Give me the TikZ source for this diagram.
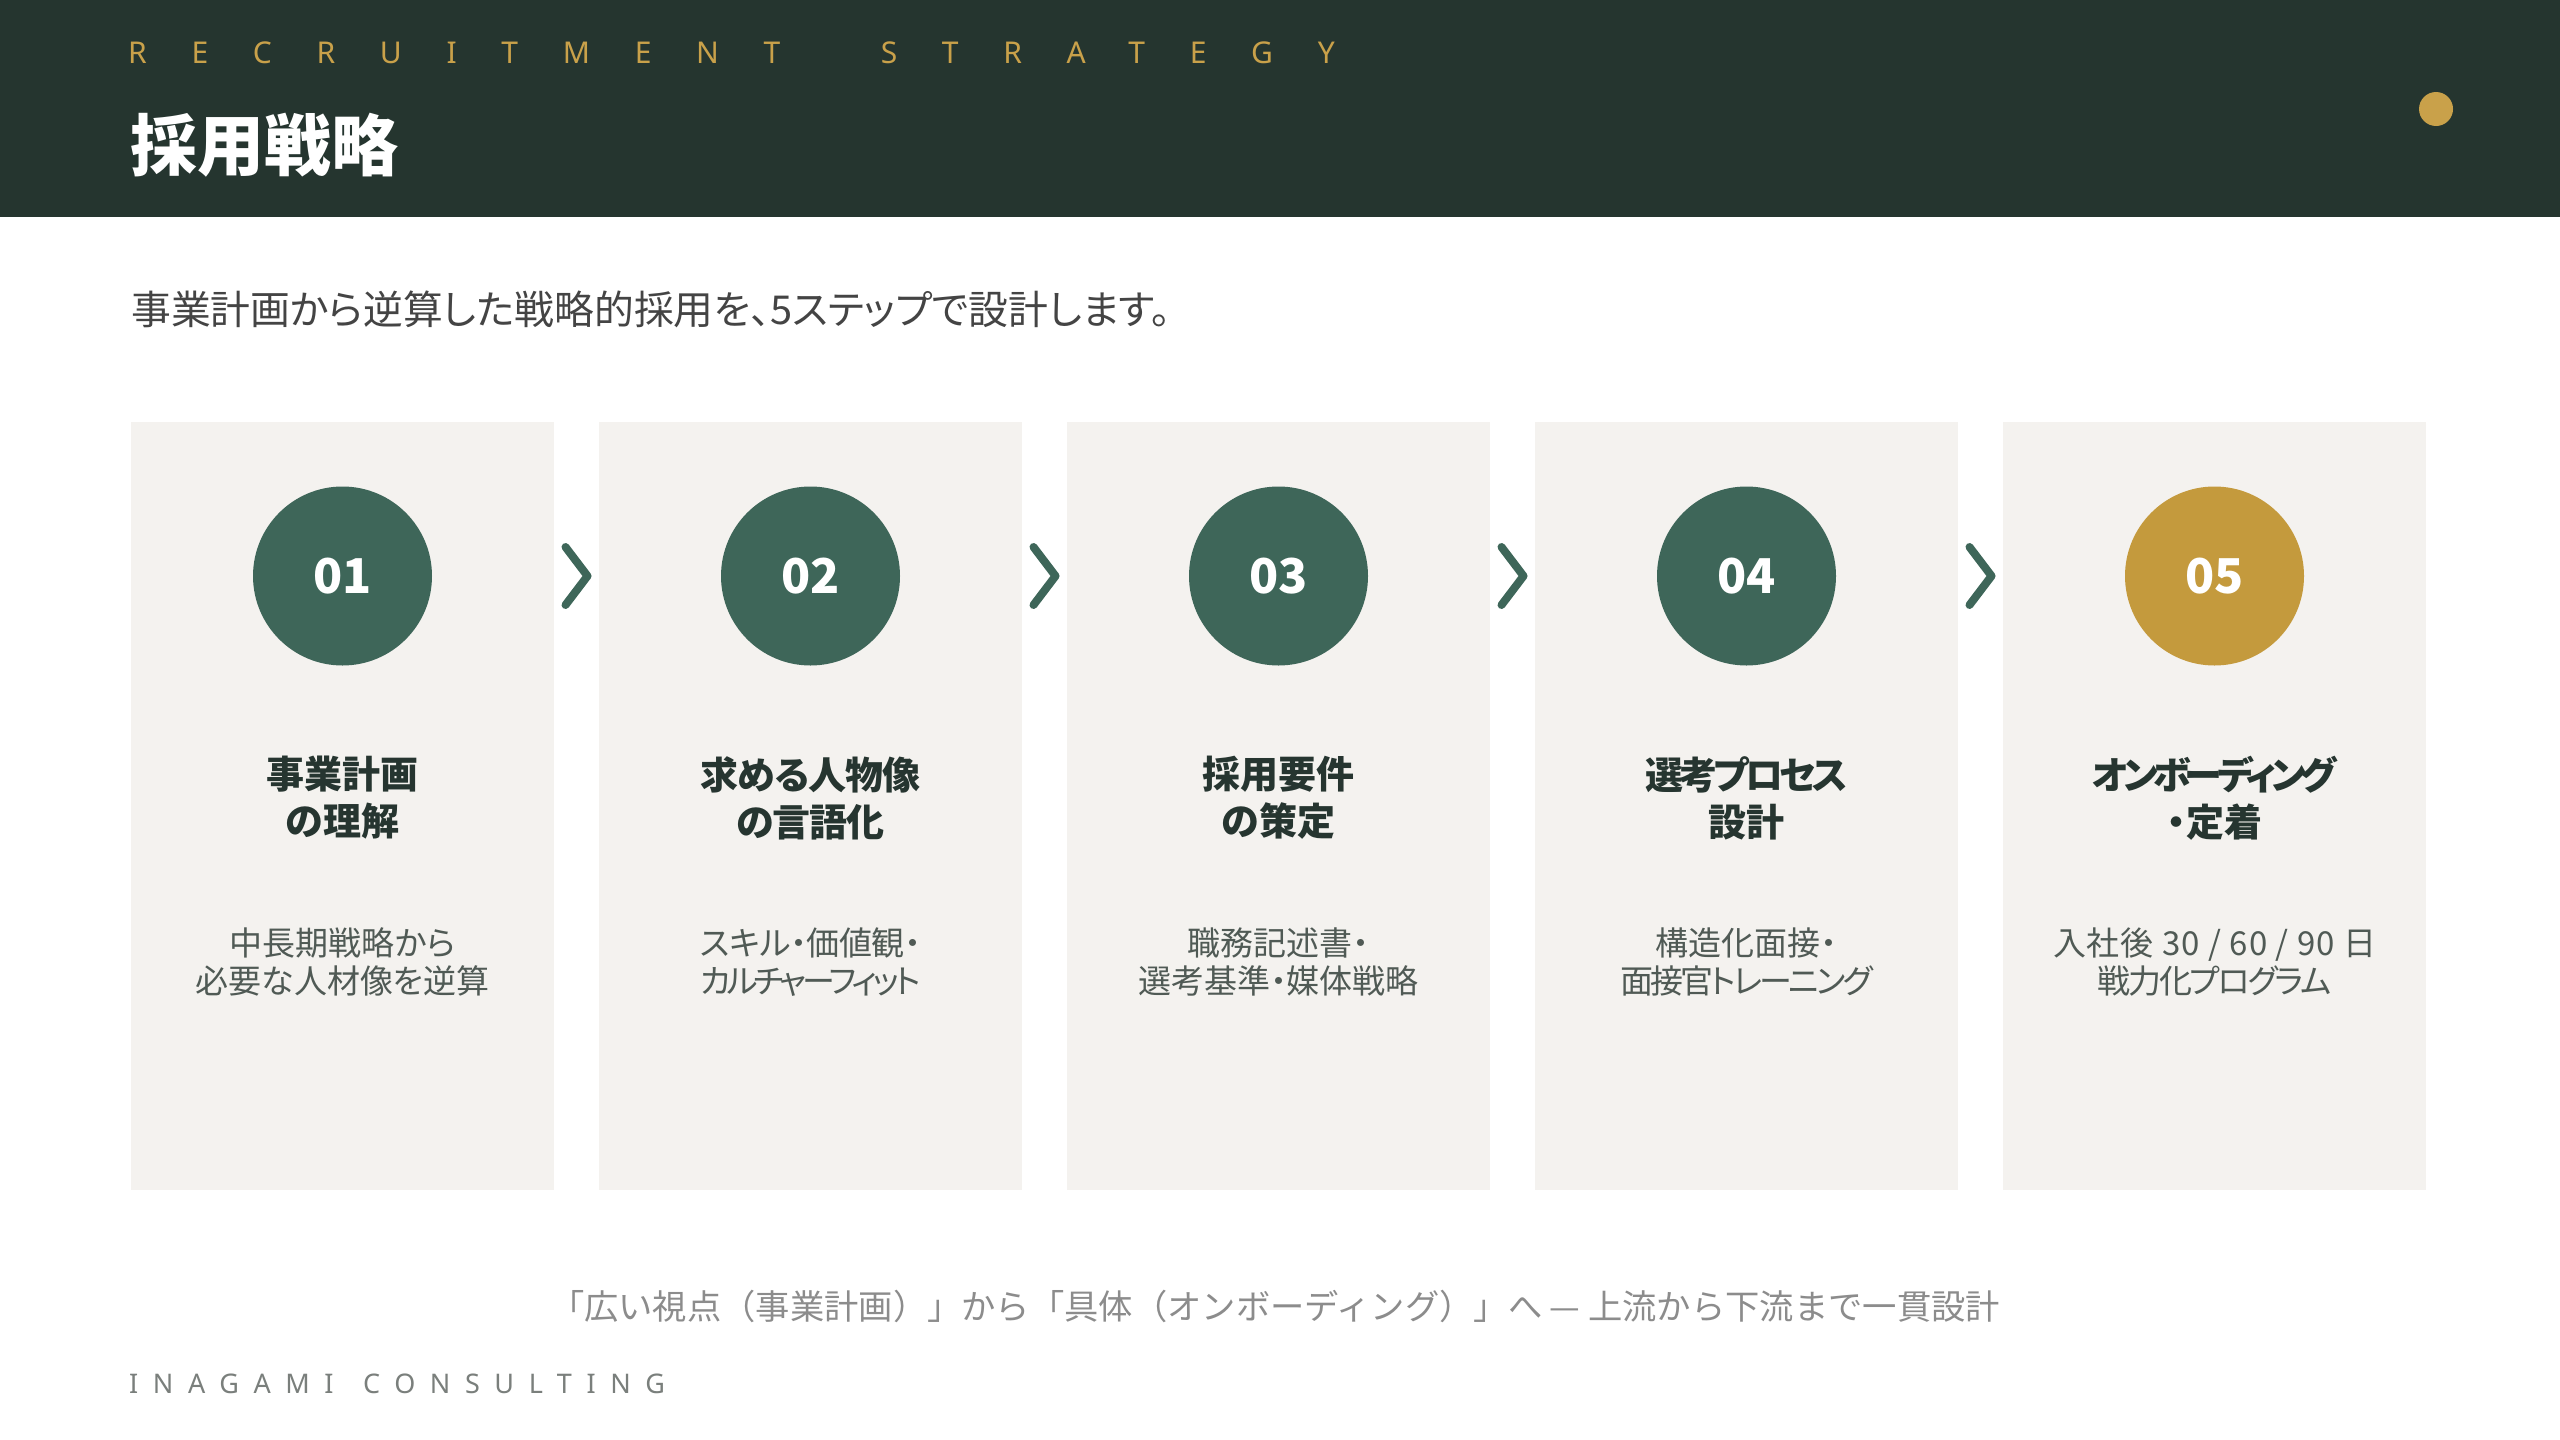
\documentclass[tikz,border=0pt]{standalone}
\usepackage{fontspec}
\setmainfont{Noto Sans CJK JP}
\newfontfamily\jpp{Noto Sans CJK JP}[RawFeature=+palt]
\newfontfamily\latinfont{Noto Sans}
\newcommand\trk[2]{{\addfontfeature{LetterSpace=#1}#2}}
\usetikzlibrary{calc}
\definecolor{hdr}{HTML}{25352F}
\definecolor{gold}{HTML}{C9A14A}
\definecolor{goldc}{HTML}{C49A3D}
\definecolor{grn}{HTML}{3E6659}
\definecolor{cardbg}{HTML}{F4F2EF}
\definecolor{ttl}{HTML}{263530}
\definecolor{desc}{HTML}{505A55}
\definecolor{subt}{HTML}{444444}
\definecolor{capt}{HTML}{8C8C8C}
\definecolor{brand}{HTML}{7A7F7C}
\tikzset{
  cardbox/.style={fill=cardbg, draw=none, minimum width=423pt, minimum height=768pt, inner sep=0pt},
  numdisc/.style={circle, minimum size=179pt, inner sep=0pt, text=white,
    font={\fontsize{48}{58}\selectfont\bfseries}},
  stitle/.style={align=center, text=ttl, inner sep=0pt, font={\jpp\fontsize{38}{47}\selectfont\bfseries}},
  sdesc/.style={align=center, text=desc, inner sep=0pt, font={\jpp\fontsize{33}{38}\selectfont}},
  chev/.style={draw=grn, line width=8pt, line cap=round, line join=round}
}
\begin{document}
\begin{tikzpicture}[x=1pt,y=-1pt]
\useasboundingbox (0,0) rectangle (2560,1440);
\fill[white] (0,0) rectangle (2560,1440);
\fill[hdr] (0,0) rectangle (2560,217);
\node[anchor=base west, inner sep=0pt, text=gold,
  font={\latinfont\fontsize{30}{36}\selectfont\addfontfeature{LetterSpace=149}}] (lbl) at (128,63) {RECRUITMENT\hspace{48pt} STRATEGY};
\node[anchor=base west, inner sep=0pt, text=white,
  font={\fontsize{67}{76}\selectfont\bfseries}] (title) at (130,170) {採用戦略};
\node[circle, fill=gold, minimum size=34pt, inner sep=0pt] (dot) at (2436,109) {};
\node[anchor=base west, inner sep=0pt, text=subt,
  font={\jpp\fontsize{39.8}{48}\selectfont}] (sub) at (131,324) {事業計画から逆算した戦略的採用を、5ステップで設計します。};
\foreach \i/\num/\col/\ta/\tb/\da/\db in {
  0/01/grn/事業計画/の理解/中長期戦略から/必要な人材像を逆算,
  1/02/grn/{\trk{-3}{求める人物像}}/{\trk{-3}{の言語化}}/{\trk{-1}{スキル・価値観・}}/{\trk{-12}{カルチャーフィット}},
  2/03/grn/採用要件/の策定/職務記述書・/選考基準・媒体戦略,
  3/04/grn/{\trk{-10}{選考プロセス}}/設計/構造化面接・/{\trk{-9}{面接官トレーニング}},
  4/05/goldc/{\trk{-13}{オンボーディング}}/・定着/{\trk{3}{入社後 30 / 60 / 90 日}}/{\trk{-7}{戦力化プログラム}}}{
  \pgfmathsetmacro{\cx}{342.5+468*\i}
  \node[cardbox] (c\i) at (\cx,806) {};
  \node[numdisc, fill=\col] (n\i) at (\cx,576) {\num};
  \node[stitle] (t\i) at (\cx,798) {\ta\\\tb};
  \node[sdesc] (d\i) at (\cx,962) {\da\\\db};
}
\foreach \i/\j in {0/1,1/2,2/3,3/4}{
  \coordinate (m\i) at ($(n\i)!0.5!(n\j)$);
  \draw[chev] ($(m\i)+(-11,-29)$) -- ($(m\i)+(11,0)$) -- ($(m\i)+(-11,29)$);
}
\node[text=capt, inner sep=0pt, font={\fontsize{34.3}{40}\selectfont}] (cap) at (1275,1306)
  {「広い視点（事業計画）」から「具体（オンボーディング）」へ — 上流から下流まで一貫設計};
\node[anchor=base west, inner sep=0pt, text=brand,
  font={\latinfont\fontsize{27}{32}\selectfont\addfontfeature{LetterSpace=54}}] (brandname) at (129,1393) {INAGAMI\hspace{8pt} CONSULTING};
\end{tikzpicture}
\end{document}
